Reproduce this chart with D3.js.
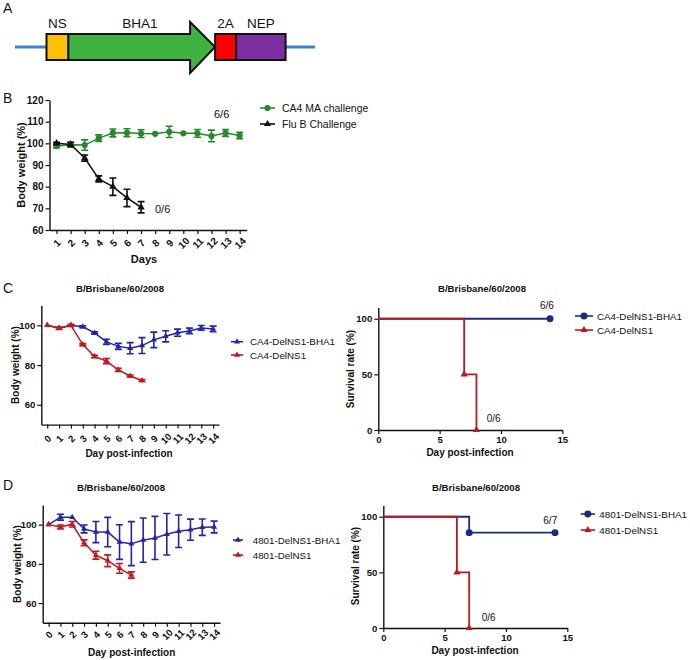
<!DOCTYPE html>
<html>
<head>
<meta charset="utf-8">
<script src="https://cdn.jsdelivr.net/npm/d3@7"></script>
<style>
body { margin: 0; background: #fff; }
text { font-family: "Liberation Sans", Arial, sans-serif; fill: #111; }
</style>
</head>
<body>
<svg id="main_svg" width="690" height="660"></svg>
<script>
// ---- data ----
// panel A: gene construct (units along the segment)
var geneNames = ["NS", "BHA1", "2A", "NEP"];
var geneStart = [10.5, 17.8, 66.7, 73.7];
var geneEnd = [17.8, 66.7, 73.7, 90.2];
var geneColors = ["#ffc000", "#3fb33f", "#ff0000", "#7d2ea3"];

// panel B
var daysB = [1, 2, 3, 4, 5, 6, 7, 8, 9, 10, 11, 12, 13, 14];
var bCA4Mean = [98.8, 99.4, 99.2, 102.4, 104.8, 104.9, 104.5, 104.4, 105.3, 104.6, 104.6, 103.4, 104.8, 103.6];
var bCA4Err = [0.8, 1, 2.4, 1.5, 1.8, 1.8, 1.8, 0, 2.6, 0, 1.8, 2.7, 1.6, 1.5];
var daysFlu = [1, 2, 3, 4, 5, 6, 7];
var bFluMean = [100, 99.5, 93.2, 83.6, 80, 74.8, 70.5];
var bFluErr = [0.5, 1, 1.4, 1.4, 4, 4, 2.6];

// panel C
var daysC = [0, 1, 2, 3, 4, 5, 6, 7, 8, 9, 10, 11, 12, 13, 14];
var cBhaMean = [100, 98.6, 100, 99.3, 96.2, 91.7, 89.4, 88.5, 89.8, 92.7, 94.5, 96.3, 97.2, 98.7, 98.2];
var cBhaErr = [0, 0, 0, 0.5, 0.5, 1.3, 1.5, 2.8, 4, 3.9, 2.8, 1.8, 1.4, 1.2, 1.4];
var daysCDel = [0, 1, 2, 3, 4, 5, 6, 7, 8];
var cDelMean = [100, 98.5, 100, 90.3, 84.3, 82, 77.6, 74.5, 72.2];
var cDelErr = [0, 0.6, 0.5, 0.5, 0.6, 1.3, 0.8, 0.5, 0.5];
var survCBhaDays = [0, 14];
var survCBha = [100, 100];
var survCDelDays = [0, 7, 8];
var survCDel = [100, 50, 0];

// panel D
var daysD = [0, 1, 2, 3, 4, 5, 6, 7, 8, 9, 10, 11, 12, 13, 14];
var dBhaMean = [100, 103.8, 103.8, 97.8, 96.2, 96.2, 91.1, 90.3, 92.1, 93.2, 95.1, 96.6, 97.4, 98.7, 98.8];
var dBhaErr = [0, 1.5, 0, 2, 5.4, 7.5, 8.8, 11.2, 11.3, 11, 10.6, 8.3, 5.4, 4.2, 3];
var daysDDel = [0, 1, 2, 3, 4, 5, 6, 7];
var dDelMean = [100, 98.8, 100.2, 90.7, 84.4, 81.6, 77.7, 74.3];
var dDelErr = [0, 1, 1.4, 1.5, 2, 3, 2.5, 1.6];
var survDBhaDays = [0, 7, 14];
var survDBha = [100, 85.7, 85.7];
var survDDelDays = [0, 6, 7];
var survDDel = [100, 50, 0];

var green = "#24892a", blue = "#2424b4", navy = "#1d2a82", red = "#c3161d";

var svg = d3.select("#main_svg");

// ---- panel A ----
function drawConstruct() {
    var g = svg.append("g");
    var x = d3.scaleLinear().domain([0, 100]).range([15, 315]);
    var midY = 47, top = 34, bot = 60;
    g.append("line").attr("x1", x(0)).attr("x2", x(100)).attr("y1", midY).attr("y2", midY)
        .attr("stroke", "#3a86cc").attr("stroke-width", 3);
    geneNames.forEach(function(name, i) {
        if (name == "BHA1") {
            var headX = x(geneEnd[i]) - 25;
            var p = [[x(geneStart[i]), top], [headX, top], [headX, 22], [x(geneEnd[i]), midY],
                     [headX, 73], [headX, bot], [x(geneStart[i]), bot]];
            g.append("polygon").attr("points", p.join(" "))
                .attr("fill", geneColors[i]).attr("stroke", "#111").attr("stroke-width", 2);
        } else {
            g.append("rect").attr("x", x(geneStart[i])).attr("y", top)
                .attr("width", x(geneEnd[i]) - x(geneStart[i])).attr("height", bot - top)
                .attr("fill", geneColors[i]).attr("stroke", "#111").attr("stroke-width", 2);
        }
        var cx = (x(geneStart[i]) + x(geneEnd[i])) / 2;
        if (name == "BHA1") cx = 140;
        g.append("text").attr("x", cx).attr("y", 28).attr("text-anchor", "middle")
            .attr("font-size", 13.5).text(name);
    });
}
drawConstruct();

// panel letters
[["A", 13], ["B", 103], ["C", 293], ["D", 490]].forEach(function(d) {
    svg.append("text").attr("x", 3).attr("y", d[1]).attr("font-size", 14).text(d[0]);
});

function addMarker(g, shape, x, y, color, size) {
    g.append("path")
        .attr("d", d3.symbol().type(shape == "circle" ? d3.symbolCircle : d3.symbolTriangle).size(size)())
        .attr("transform", "translate(" + x + "," + y + ")")
        .attr("fill", color);
}

function styleAxis(ax, fs) {
    ax.select(".domain").attr("stroke", "#111").attr("stroke-width", 1.4);
    ax.selectAll(".tick line").attr("stroke", "#111").attr("stroke-width", 1.2);
    ax.selectAll(".tick text").attr("font-size", fs).attr("font-weight", "bold").attr("fill", "#111")
        .style("font-family", "'Liberation Sans', Arial, sans-serif");
}

// weight panel (mean +- error with rotated day ticks)
function weightPanel(cfg) {
    var g = svg.append("g");
    var x = cfg.x, y = cfg.y;
    var xa = g.append("g").attr("transform", "translate(0," + y.range()[0] + ")")
        .call(d3.axisBottom(x).tickValues(cfg.xticks).tickSize(4).tickSizeOuter(0).tickFormat(d3.format("d")));
    styleAxis(xa, cfg.fs);
    xa.selectAll(".tick text").attr("y", 0).attr("dy", "0.35em").attr("text-anchor", "middle")
        .attr("transform", "translate(0," + cfg.tickOff + ") rotate(-45)");
    var ya = g.append("g").attr("transform", "translate(" + x.range()[0] + ",0)")
        .call(d3.axisLeft(y).tickValues(cfg.yticks).tickSize(4).tickPadding(2).tickSizeOuter(0));
    styleAxis(ya, cfg.fs);

    cfg.series.forEach(function(s) {
        var pts = s.days.map(function(d, i) { return [d, s.mean[i], s.err[i]]; });
        var line = d3.line().x(function(d) { return x(d[0]); }).y(function(d) { return y(d[1]); });
        g.append("path").datum(pts).attr("d", line).attr("fill", "none")
            .attr("stroke", s.color).attr("stroke-width", 1.5);
        pts.forEach(function(d) {
            if (d[2] > 0.3) {
                var x0 = x(d[0]), y1 = y(d[1] + d[2]), y2 = y(d[1] - d[2]);
                g.append("path").attr("d", "M" + x0 + "," + y1 + "V" + y2 + "M" + (x0 - 3.5) + "," + y1 + "h7M" + (x0 - 3.5) + "," + y2 + "h7")
                    .attr("stroke", s.color).attr("stroke-width", 1.6).attr("fill", "none");
            }
            addMarker(g, s.shape, x(d[0]), y(d[1]), s.color, s.size);
        });
    });

    g.append("text").attr("x", cfg.xTitle[0]).attr("y", cfg.xTitle[1]).attr("text-anchor", "middle")
        .attr("font-size", cfg.titleFs).attr("font-weight", "bold").text(cfg.xLabel);
    g.append("text").attr("transform", "translate(" + cfg.yTitle[0] + "," + cfg.yTitle[1] + ") rotate(-90)")
        .attr("text-anchor", "middle").attr("font-size", cfg.titleFs).attr("font-weight", "bold")
        .text("Body weight (%)");
    return g;
}

function survivalPanel(cfg) {
    var g = svg.append("g");
    var x = cfg.x, y = cfg.y;
    var xa = g.append("g").attr("transform", "translate(0," + y.range()[0] + ")")
        .call(d3.axisBottom(x).tickValues([0, 5, 10, 15]).tickSize(4).tickPadding(2).tickSizeOuter(0));
    styleAxis(xa, 9.6);
    var ya = g.append("g").attr("transform", "translate(" + x.range()[0] + ",0)")
        .call(d3.axisLeft(y).tickValues([0, 50, 100]).tickSize(4).tickPadding(2).tickSizeOuter(0));
    styleAxis(ya, 9.6);

    cfg.series.forEach(function(s) {
        var pts = s.days.map(function(d, i) { return [d, s.vals[i]]; });
        var line = d3.line().curve(d3.curveStepAfter)
            .x(function(d) { return x(d[0]); }).y(function(d) { return y(d[1]); });
        g.append("path").datum(pts).attr("d", line).attr("fill", "none")
            .attr("stroke", s.color).attr("stroke-width", 1.8);
        pts.slice(1).forEach(function(d) {
            addMarker(g, s.shape, x(d[0]), y(d[1]), s.color, s.shape == "circle" ? 38 : 22);
        });
    });
    g.append("text").attr("x", cfg.xTitle[0]).attr("y", cfg.xTitle[1]).attr("text-anchor", "middle")
        .attr("font-size", 10).attr("font-weight", "bold").text("Day post-infection");
    g.append("text").attr("transform", "translate(" + cfg.yTitle[0] + "," + cfg.yTitle[1] + ") rotate(-90)")
        .attr("text-anchor", "middle").attr("font-size", 10).attr("font-weight", "bold")
        .text("Survival rate (%)");
    return g;
}

function legend(items, x0, x1, tx, ys, fs, msize) {
    items.forEach(function(it, i) {
        svg.append("line").attr("x1", x0).attr("x2", x1).attr("y1", ys[i]).attr("y2", ys[i])
            .attr("stroke", it.color).attr("stroke-width", 1.6);
        addMarker(svg, it.shape, (x0 + x1) / 2, ys[i], it.color, it.size || msize);
        svg.append("text").attr("x", tx).attr("y", ys[i] + fs * 0.36).attr("font-size", fs).text(it.label);
    });
}

function note(txt, x, y, fs) {
    svg.append("text").attr("x", x).attr("y", y).attr("font-size", fs).text(txt);
}
function title(txt, x, y) {
    svg.append("text").attr("x", x).attr("y", y).attr("text-anchor", "middle")
        .attr("font-size", 9.6).attr("font-weight", "bold").text(txt);
}

// ---- panel B ----
weightPanel({
    x: d3.scaleLinear().domain([0.5, 14.5]).range([49.5, 246.7]),
    y: d3.scaleLinear().domain([60, 120]).range([230, 100]),
    xticks: daysB, yticks: [60, 70, 80, 90, 100, 110, 120],
    fs: 10, titleFs: 11, tickOff: 13,
    xLabel: "Days", xTitle: [144, 263], yTitle: [25, 165],
    series: [
        { days: daysB, mean: bCA4Mean, err: bCA4Err, color: green, shape: "circle", size: 30 },
        { days: daysFlu, mean: bFluMean, err: bFluErr, color: "#111", shape: "triangle", size: 24 }
    ]
});
legend([
    { label: "CA4 MA challenge", color: green, shape: "circle", size: 30 },
    { label: "Flu B Challenge", color: "#111", shape: "triangle", size: 22 }
], 260, 275, 282, [108, 124], 10.5, 24);
note("6/6", 214, 118, 11);
note("0/6", 155, 212.5, 11);

// ---- panel C ----
title("B/Brisbane/60/2008", 120, 292);
weightPanel({
    x: d3.scaleLinear().domain([-0.5, 14.5]).range([41.3, 219]),
    y: d3.scaleLinear().domain([50, 110]).range([424.6, 305.5]),
    xticks: daysC, yticks: [60, 80, 100],
    fs: 9.6, titleFs: 10, tickOff: 14,
    xLabel: "Day post-infection", xTitle: [129, 457], yTitle: [18.5, 365],
    series: [
        { days: daysC, mean: cBhaMean, err: cBhaErr, color: blue, shape: "triangle", size: 16 },
        { days: daysCDel, mean: cDelMean, err: cDelErr, color: red, shape: "triangle", size: 16 }
    ]
});
legend([
    { label: "CA4-DelNS1-BHA1", color: blue, shape: "triangle" },
    { label: "CA4-DelNS1", color: red, shape: "triangle" }
], 231, 243, 250, [341.7, 355], 9.8, 16);

title("B/Brisbane/60/2008", 482, 292);
survivalPanel({
    x: d3.scaleLinear().domain([0, 15]).range([378.3, 562.3]),
    y: d3.scaleLinear().domain([0, 110]).range([430, 307.6]),
    xTitle: [470, 456], yTitle: [354, 369],
    series: [
        { days: survCBhaDays, vals: survCBha, color: navy, shape: "circle" },
        { days: survCDelDays, vals: survCDel, color: red, shape: "triangle" }
    ]
});
legend([
    { label: "CA4-DelNS1-BHA1", color: navy, shape: "circle", size: 38 },
    { label: "CA4-DelNS1", color: red, shape: "triangle", size: 22 }
], 575, 593, 597, [316, 330], 9.8, 22);
note("6/6", 540, 309, 10);
note("0/6", 486.7, 421.7, 10);

// ---- panel D ----
title("B/Brisbane/60/2008", 121, 491);
weightPanel({
    x: d3.scaleLinear().domain([-0.5, 14.5]).range([42.7, 220]),
    y: d3.scaleLinear().domain([50, 110]).range([622.7, 505]),
    xticks: daysD, yticks: [60, 80, 100],
    fs: 9.6, titleFs: 10, tickOff: 12,
    xLabel: "Day post-infection", xTitle: [131.7, 656], yTitle: [20.7, 564],
    series: [
        { days: daysD, mean: dBhaMean, err: dBhaErr, color: blue, shape: "triangle", size: 16 },
        { days: daysDDel, mean: dDelMean, err: dDelErr, color: red, shape: "triangle", size: 16 }
    ]
});
legend([
    { label: "4801-DelNS1-BHA1", color: blue, shape: "triangle" },
    { label: "4801-DelNS1", color: red, shape: "triangle" }
], 233, 243, 252.7, [540, 555], 9.8, 16);

title("B/Brisbane/60/2008", 476, 491);
survivalPanel({
    x: d3.scaleLinear().domain([0, 15]).range([383.3, 567.3]),
    y: d3.scaleLinear().domain([0, 110]).range([628, 505.6]),
    xTitle: [475, 654], yTitle: [359, 566],
    series: [
        { days: survDBhaDays, vals: survDBha, color: navy, shape: "circle" },
        { days: survDDelDays, vals: survDDel, color: red, shape: "triangle" }
    ]
});
legend([
    { label: "4801-DelNS1-BHA1", color: navy, shape: "circle", size: 38 },
    { label: "4801-DelNS1", color: red, shape: "triangle", size: 22 }
], 580.7, 595, 599.3, [514, 530], 9.8, 22);
note("6/7", 543.3, 524, 10);
note("0/6", 481.7, 620.7, 10);
</script>
</body>
</html>
